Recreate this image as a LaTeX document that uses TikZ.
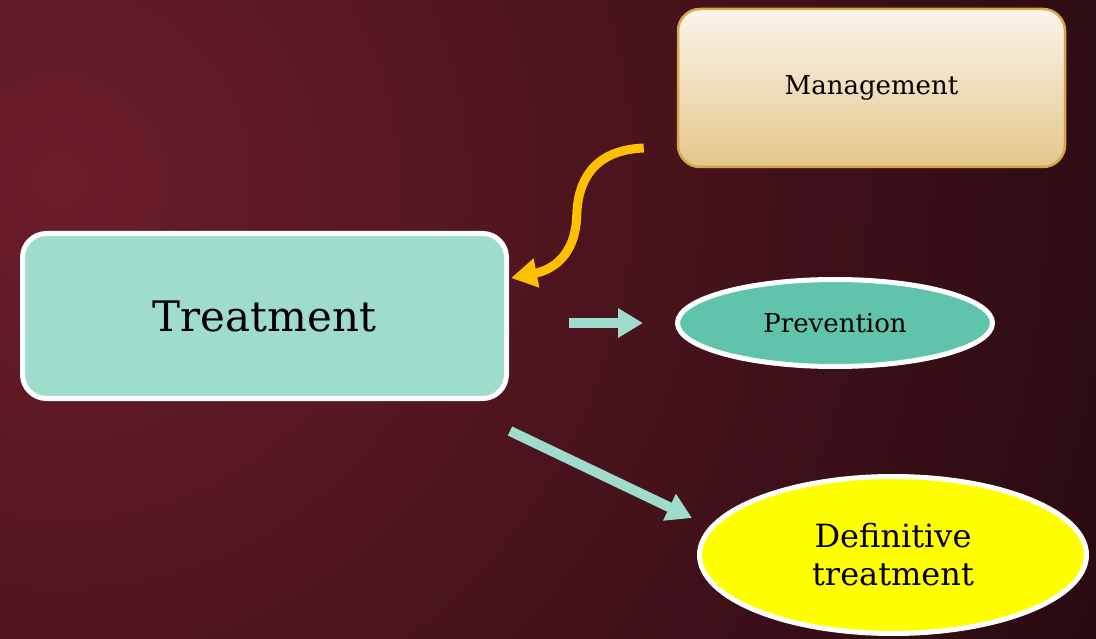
\documentclass[tikz,border=0pt]{standalone}
\usepackage{fontspec}
\setmainfont{DejaVu Serif}
\usetikzlibrary{shapes.geometric,arrows.meta,calc}

\definecolor{bgLight}{HTML}{6C1D2A}
\definecolor{bgDark}{HTML}{24090F}
\definecolor{mint}{HTML}{A0DCCC}
\definecolor{seafoam}{HTML}{5FC4AA}
\definecolor{sand}{HTML}{D4A84A}
\definecolor{creamTop}{HTML}{FBF5EC}
\definecolor{creamBot}{HTML}{E5C68A}
\definecolor{amber}{HTML}{FFC000}
\definecolor{lemon}{HTML}{FFFF00}

\begin{document}
\begin{tikzpicture}[x=1pt,y=-1pt,
  mainbox/.style={draw=white, line width=5pt, fill=mint, rounded corners=24pt,
    minimum width=484pt, minimum height=165pt, inner sep=0pt,
    font=\fontsize{42}{48}\selectfont},
  topbox/.style={draw=sand, line width=2.5pt, rounded corners=22pt,
    top color=creamTop, bottom color=creamBot,
    minimum width=387pt, minimum height=158pt, inner sep=0pt,
    font=\fontsize{26}{30}\selectfont},
  oval/.style={ellipse, draw=white, line width=5pt, inner sep=0pt},
  flow/.style={draw=mint, line width=10pt,
    -{Triangle[length=25pt,width=28pt]}},
  curly/.style={draw=amber, line width=9pt,
    -{Triangle[length=26pt,width=28pt]}}]

\useasboundingbox (0,0) rectangle (1096,639);

% backdrop: deep wine tone, lighter toward the upper left
\begin{scope}
  \clip (0,0) rectangle (1096,639);
  \fill[bgDark] (0,0) rectangle (1096,639);
  \shade[inner color=bgLight, outer color=bgDark] (60,180) circle (1200);
\end{scope}

% nodes
\node[topbox] (mgmt) at (871.5,88) {Management};
\node[mainbox] (treat) at (264.5,316) {Treatment};
\node[oval, fill=seafoam, minimum width=315pt, minimum height=87pt,
      font=\fontsize{26}{30}\selectfont] (prev) at (835,323) {Prevention};
\node[oval, fill=lemon, minimum width=387pt, minimum height=157pt,
      align=center, font=\fontsize{32}{38}\selectfont] (defin) at (893,555)
      {Definitive\\treatment};

% connectors
\draw[curly] ([shift={(-33,60)}]mgmt.west)
  .. controls ([shift={(-85,62)}]mgmt.west) and ([shift={(-99,95)}]mgmt.west)
  .. ([shift={(-100,127)}]mgmt.west)
  .. controls ([shift={(-101,168)}]mgmt.west) and ([shift={(-125,182)}]mgmt.west)
  .. ([shift={(2,-38)}]treat.east);

\draw[flow, shorten <=60pt, shorten >=32pt] (treat.east |- prev.west) -- (prev.west);

\draw[flow] ([shift={(1,30)}]treat.south east) -- ([shift={(-201,-37)}]defin.center);
\end{tikzpicture}
\end{document}
